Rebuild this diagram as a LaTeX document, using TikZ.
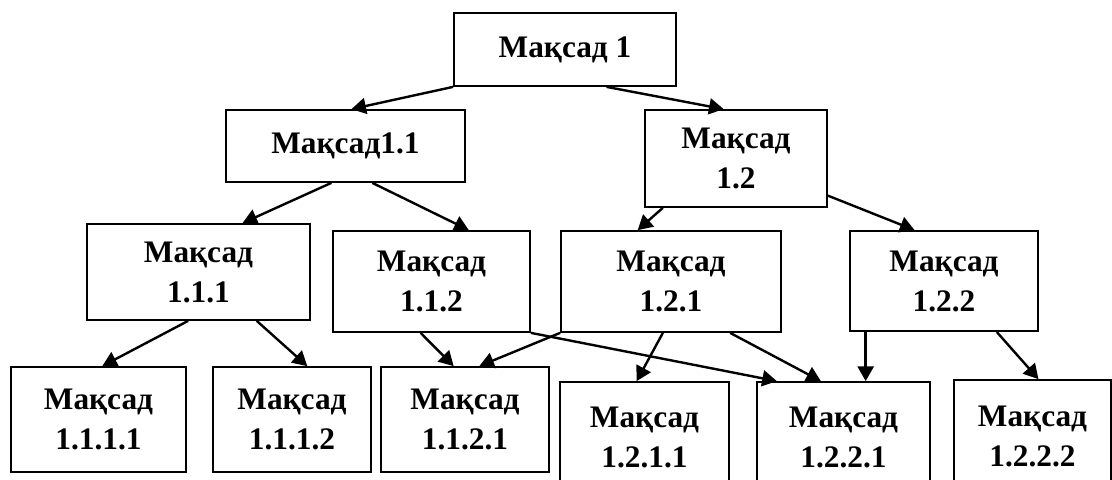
\documentclass[tikz,border=0pt]{standalone}
\usepackage{fontspec}
\setmainfont{Liberation Serif}
\usetikzlibrary{arrows.meta}

\tikzset{
  goal/.style={rectangle, draw, line width=1.3pt, inner sep=0pt, align=center,
    font=\bfseries\fontsize{23.5}{30}\selectfont},
  boxsize/.style 2 args={minimum width=#1*0.75pt, minimum height=#2*0.75pt},
}

\begin{document}
\begin{tikzpicture}[x=0.75pt, y=-0.75pt, >={Triangle[length=11pt,width=12pt]}]
    \useasboundingbox (0,0) rectangle (1112,479);
    \clip (0,0) rectangle (1112,479);
    \node[goal, boxsize={222}{73}] (g1) at (565,49.5) {Мақсад 1};
    \node[goal, boxsize={239}{72}] (g11) at (345.5,146) {Мақсад1.1};
    \node[goal, boxsize={182}{97}] (g12) at (736,158.5) {Мақсад\\1.2};
    \node[goal, boxsize={223}{96}] (g111) at (198.5,272) {Мақсад\\1.1.1};
    \node[goal, boxsize={197}{101}] (g112) at (431.5,281.5) {Мақсад\\1.1.2};
    \node[goal, boxsize={220}{101}] (g121) at (671,281.5) {Мақсад\\1.2.1};
    \node[goal, boxsize={188}{100}] (g122) at (944,281) {Мақсад\\1.2.2};
    \node[goal, boxsize={175}{105}] (g1111) at (98.5,419.5) {Мақсад\\1.1.1.1};
    \node[goal, boxsize={158}{105}] (g1112) at (292,419.5) {Мақсад\\1.1.1.2};
    \node[goal, boxsize={168}{105}] (g1121) at (465,419.5) {Мақсад\\1.1.2.1};
    \node[goal, boxsize={169}{110}] (g1211) at (644.5,437) {Мақсад\\1.2.1.1};
    \node[goal, boxsize={173}{110}] (g1221) at (843.5,437) {Мақсад\\1.2.2.1};
    \node[goal, boxsize={157}{112}] (g1222) at (1032.5,436) {Мақсад\\1.2.2.2};
    \path[->, line width=1.8pt]
      (g1.south west) edge (g11.81)
      (g1.-42) edge (g12.104)
      (g11.-111) edge (g111.48)
      (g11.-54) edge (g112.54)
      (g12.-146) edge (g121.123)
      (g12.-22) edge (g122.120)
      (g111.-102) edge (g1111.86)
      (g111.-40) edge (g1112.74)
      (g112.-102) edge (g1121.102)
      (g121.south west) edge (g1121.75)
      (g112.south east) edge (g1221.140)
      (g121.-99) edge (g1211.98)
      (g121.-41) edge (g1221.112)
      (g122.-147) edge (g122.-147 |- g1221.north)
      (g122.-44) edge (g1222.84);
\end{tikzpicture}
\end{document}
